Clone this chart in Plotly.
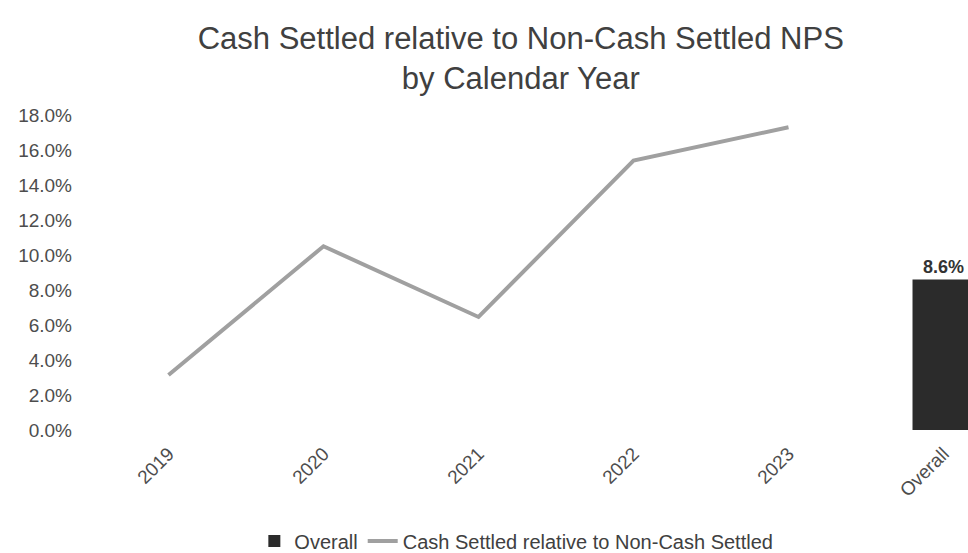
import plotly.graph_objects as go

years = ["2019", "2020", "2021", "2022", "2023"]
cash_rel = [0.0314, 0.1050, 0.0646, 0.1540, 0.1730]
overall_cat = ["Overall"]
overall_val = [0.086]
y_ticks = [0, 0.02, 0.04, 0.06, 0.08, 0.10, 0.12, 0.14, 0.16, 0.18]
categories = years + overall_cat

FONT = "Arial, Liberation Sans, sans-serif"

fig = go.Figure()
fig.add_trace(go.Bar(
    x=overall_cat, y=overall_val, name="Overall",
    marker=dict(color="#2b2b2b", line=dict(width=0)),
    width=0.4,
    texttemplate="<b>%{y:.1%}</b>", textposition="outside",
    textfont=dict(family=FONT, size=18, color="#333333"),
    cliponaxis=False,
))
fig.add_trace(go.Scatter(
    x=years, y=cash_rel, name="Cash Settled relative to Non-Cash Settled",
    mode="lines", line=dict(color="#a0a0a0", width=4),
))

fig.update_layout(
    width=968, height=553,
    paper_bgcolor="white", plot_bgcolor="white",
    margin=dict(l=91, r=0, t=115, b=123, autoexpand=False),
    title=dict(
        text="Cash Settled relative to Non-Cash Settled NPS<br>by Calendar Year",
        x=0.538, xanchor="center", y=0.912, yanchor="top",
        font=dict(family=FONT, size=31, color="#404040"),
    ),
    font=dict(family=FONT, size=19, color="#4d4d4d"),
    showlegend=True,
    legend=dict(
        orientation="h", x=0.485, xanchor="center", y=-0.352, yanchor="middle",
        font=dict(family=FONT, size=20, color="#404040"),
        traceorder="normal",
    ),
    xaxis=dict(
        type="category", categoryorder="array", categoryarray=categories,
        range=[-0.5, 5.158], tickangle=-45, showgrid=False, showline=False,
        zeroline=False, ticks="", ticklabelstandoff=8, automargin=False,
        tickfont=dict(family=FONT, size=19, color="#4d4d4d"),
    ),
    yaxis=dict(
        range=[0, 0.18], tickvals=y_ticks, tickformat=".1%",
        showgrid=False, showline=False, zeroline=False, ticks="",
        ticklabelstandoff=18, automargin=False,
        tickfont=dict(family=FONT, size=19, color="#4d4d4d"),
    ),
)

fig.write_html("out.html")
